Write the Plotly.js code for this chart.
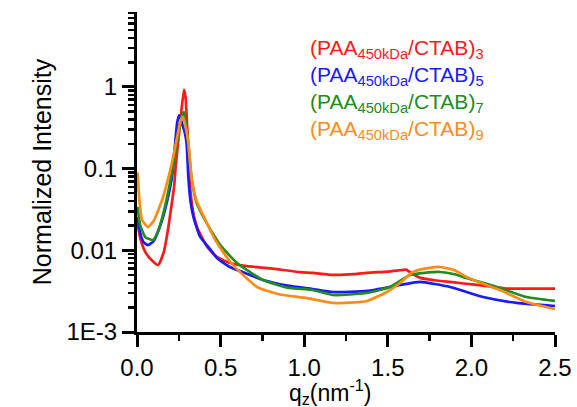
<!DOCTYPE html>
<html>
<head>
<meta charset="utf-8">
<script src="https://cdn.plot.ly/plotly-3.0.1.min.js"></script>
<style>html,body{margin:0;padding:0;background:#fff;}#chart{width:577px;height:407px;}</style>
</head>
<body>
<div id="chart"></div>
<script>
// Series names
const seriesNames = [
  "(PAA<sub>450kDa</sub>/CTAB)<sub>3</sub>",
  "(PAA<sub>450kDa</sub>/CTAB)<sub>5</sub>",
  "(PAA<sub>450kDa</sub>/CTAB)<sub>7</sub>",
  "(PAA<sub>450kDa</sub>/CTAB)<sub>9</sub>"
];
const seriesColors = ["#ff1a1a", "#1a1aff", "#228b22", "#ff8c1a"];
const xTitle = "q<sub>z</sub>(nm<sup>-1</sup>)";
const yTitle = "Normalized Intensity";

// (PAA/CTAB)3 - red
const q3 = [0.003,0.02,0.05,0.09,0.126,0.16,0.185,0.21,0.222,0.232,0.25,0.265,0.281,0.29,0.303,0.315,0.335,0.36,0.42,0.478,0.556,0.658,0.8,0.975,1.05,1.172,1.3,1.376,1.5,1.573,1.61,1.633,1.693,1.78,1.872,1.97,2.07,2.21,2.35,2.5];
const I3 = [0.022,0.014,0.0095,0.0075,0.0066,0.0095,0.0177,0.04,0.06,0.11,0.25,0.5,0.92,0.75,0.25,0.07,0.03,0.019,0.011,0.0083,0.007,0.0064,0.006,0.0054,0.0053,0.005,0.0051,0.0053,0.0055,0.0057,0.0058,0.0054,0.0046,0.0043,0.0041,0.0039,0.0037,0.0034,0.0034,0.0034];

// (PAA/CTAB)5 - blue
const q5 = [0.003,0.02,0.04,0.066,0.1,0.15,0.18,0.209,0.225,0.24,0.252,0.262,0.275,0.287,0.297,0.307,0.32,0.337,0.377,0.425,0.48,0.556,0.654,0.754,0.9,1.05,1.172,1.376,1.573,1.693,1.872,2.07,2.27,2.5];
const I5 = [0.0256,0.016,0.0125,0.0116,0.013,0.0235,0.04,0.079,0.17,0.362,0.45,0.4,0.33,0.27,0.2,0.08,0.04,0.0258,0.0147,0.0111,0.008,0.00625,0.0052,0.00433,0.0037,0.00336,0.00309,0.00318,0.00376,0.0041,0.00356,0.00268,0.00227,0.00208];

// (PAA/CTAB)7 - green
const q7 = [0.003,0.02,0.05,0.096,0.13,0.167,0.209,0.245,0.265,0.281,0.293,0.307,0.327,0.357,0.407,0.467,0.507,0.598,0.754,0.9,1.05,1.172,1.376,1.513,1.633,1.72,1.812,1.9,1.97,2.07,2.17,2.33,2.5];
const I7 = [0.034,0.02,0.0145,0.0134,0.018,0.034,0.089,0.244,0.42,0.494,0.35,0.2,0.075,0.038,0.0235,0.0145,0.011,0.007,0.00433,0.0035,0.00327,0.00284,0.003,0.00356,0.00499,0.0053,0.00543,0.0051,0.00458,0.004,0.00346,0.00268,0.0024];

// (PAA/CTAB)9 - orange
const q9 = [0.003,0.015,0.03,0.066,0.1,0.15,0.209,0.245,0.262,0.275,0.29,0.307,0.327,0.357,0.407,0.467,0.52,0.574,0.718,0.85,1.017,1.172,1.3,1.376,1.495,1.573,1.65,1.75,1.812,1.9,1.97,2.07,2.17,2.33,2.5];
const I9 = [0.09,0.04,0.0235,0.0193,0.023,0.0413,0.117,0.273,0.4,0.43,0.33,0.21,0.075,0.04,0.024,0.0135,0.0092,0.0066,0.00356,0.0029,0.0026,0.00227,0.0023,0.0024,0.00309,0.00398,0.00543,0.0061,0.00625,0.0057,0.00473,0.0039,0.00327,0.00233,0.00191];

// Axis ticks
const yTickVals = [0.001, 0.01, 0.1, 1];
const yTickText = ["1E-3", "0.01", "0.1", "1"];
const xTickVals = [0, 0.5, 1.0, 1.5, 2.0, 2.5];
const xTickText = ["0.0", "0.5", "1.0", "1.5", "2.0", "2.5"];

const xs = [q3, q5, q7, q9];
const ys = [I3, I5, I7, I9];
const traces = xs.map((x, i) => ({
  x: x, y: ys[i], type: "scatter", mode: "lines",
  name: seriesNames[i],
  line: {color: seriesColors[i], width: 2.7, shape: "spline", smoothing: 0.5},
  showlegend: false
}));

const FONT = "Arial, 'Liberation Sans', sans-serif";
const legendY = [0.885, 0.8, 0.715, 0.63];
const annotations = seriesNames.map((t, i) => ({
  text: t, xref: "paper", yref: "paper", x: 0.41, y: legendY[i],
  xanchor: "left", yanchor: "middle", showarrow: false,
  font: {family: FONT, size: 21, color: seriesColors[i]}
}));
// x-axis title placed as annotation (slightly left of centre, as in the reference)
annotations.push({
  text: xTitle, xref: "paper", yref: "paper", x: 0.462, y: -0.188,
  xanchor: "center", yanchor: "middle", showarrow: false, borderpad: 0,
  font: {family: FONT, size: 23, color: "#000"}
});

const layout = {
  width: 577, height: 407,
  margin: {l: 137, r: 22, t: 12, b: 75},
  paper_bgcolor: "#fff", plot_bgcolor: "#fff",
  font: {family: FONT, color: "#000"},
  xaxis: {
    range: [0, 2.5], showgrid: false, zeroline: false,
    showline: true, linecolor: "#000", linewidth: 3,
    tickmode: "array", tickvals: xTickVals, ticktext: xTickText,
    ticks: "outside", ticklen: 12, tickwidth: 3, tickcolor: "#000",
    minor: {ticks: "outside", dtick: 0.25, ticklen: 6, tickwidth: 2.5, tickcolor: "#000", showgrid: false},
    tickfont: {family: FONT, size: 24, color: "#000"}
  },
  yaxis: {
    type: "log", range: [-3, 0.918], showgrid: false, zeroline: false,
    showline: true, linecolor: "#000", linewidth: 3,
    tickmode: "array", tickvals: yTickVals, ticktext: yTickText,
    ticks: "outside", ticklen: 12, tickwidth: 3, tickcolor: "#000",
    minor: {ticks: "outside", dtick: "D1", ticklen: 6, tickwidth: 2.5, tickcolor: "#000", showgrid: false},
    tickfont: {family: FONT, size: 24, color: "#000"},
    title: {text: yTitle, font: {family: FONT, size: 25, color: "#000"}, standoff: 8}
  },
  annotations: annotations
};

Plotly.newPlot("chart", traces, layout, {displayModeBar: false, staticPlot: true});
</script>
</body>
</html>
